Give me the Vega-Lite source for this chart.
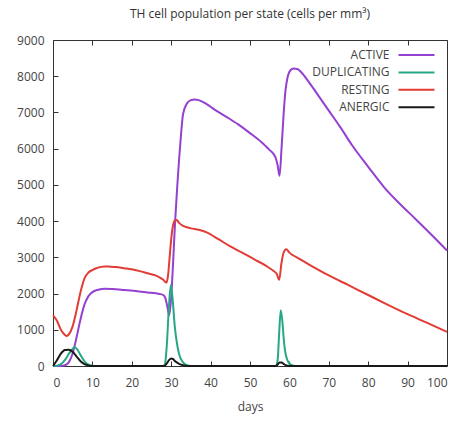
{
  "$schema": "https://vega.github.io/schema/vega-lite/v6.json",
  "width": 394,
  "height": 326,
  "autosize": {"type": "none"},
  "padding": {"left": 53, "top": 40, "right": 18, "bottom": 55},
  "title": {"text": "TH cell population per state (cells per mm³)", "fontSize": 12, "fontWeight": "normal", "color": "#333", "font": "Open Sans", "offset": 13, "anchor": "middle"},
  "config": {
    "view": {"stroke": "#333", "strokeWidth": 1},
    "font": "Open Sans",
    "axis": {"labelFont": "Open Sans", "labelFontSize": 12, "labelColor": "#444", "titleFont": "Open Sans", "titleFontSize": 12, "titleFontWeight": "normal", "titleColor": "#444", "tickColor": "#333", "grid": false, "domain": false}
  },
  "data": {"values": [
    {"d":0,"s":"ACTIVE","v":0},{"d":2,"s":"ACTIVE","v":0},{"d":3,"s":"ACTIVE","v":20},{"d":4,"s":"ACTIVE","v":100},{"d":5,"s":"ACTIVE","v":350},{"d":6,"s":"ACTIVE","v":800},{"d":7,"s":"ACTIVE","v":1300},{"d":8,"s":"ACTIVE","v":1700},{"d":9,"s":"ACTIVE","v":1930},{"d":10,"s":"ACTIVE","v":2040},{"d":11,"s":"ACTIVE","v":2090},{"d":12,"s":"ACTIVE","v":2120},{"d":13,"s":"ACTIVE","v":2130},{"d":15,"s":"ACTIVE","v":2125},{"d":18,"s":"ACTIVE","v":2100},{"d":21,"s":"ACTIVE","v":2070},{"d":24,"s":"ACTIVE","v":2030},{"d":27,"s":"ACTIVE","v":1990},{"d":28,"s":"ACTIVE","v":1960},{"d":28.5,"s":"ACTIVE","v":1880},{"d":29,"s":"ACTIVE","v":1650},{"d":29.5,"s":"ACTIVE","v":1400},{"d":30,"s":"ACTIVE","v":1900},{"d":30.5,"s":"ACTIVE","v":2900},{"d":31,"s":"ACTIVE","v":4000},{"d":31.5,"s":"ACTIVE","v":4900},{"d":32,"s":"ACTIVE","v":5700},{"d":32.5,"s":"ACTIVE","v":6400},{"d":33,"s":"ACTIVE","v":6950},{"d":34,"s":"ACTIVE","v":7250},{"d":35,"s":"ACTIVE","v":7340},{"d":36,"s":"ACTIVE","v":7360},{"d":37,"s":"ACTIVE","v":7340},{"d":39,"s":"ACTIVE","v":7230},{"d":41,"s":"ACTIVE","v":7080},{"d":44,"s":"ACTIVE","v":6880},{"d":47,"s":"ACTIVE","v":6670},{"d":50,"s":"ACTIVE","v":6430},{"d":53,"s":"ACTIVE","v":6170},{"d":55,"s":"ACTIVE","v":5960},{"d":56,"s":"ACTIVE","v":5850},{"d":56.5,"s":"ACTIVE","v":5750},{"d":57,"s":"ACTIVE","v":5550},{"d":57.5,"s":"ACTIVE","v":5250},{"d":58,"s":"ACTIVE","v":6000},{"d":58.5,"s":"ACTIVE","v":6900},{"d":59,"s":"ACTIVE","v":7600},{"d":59.5,"s":"ACTIVE","v":7950},{"d":60,"s":"ACTIVE","v":8120},{"d":61,"s":"ACTIVE","v":8210},{"d":62,"s":"ACTIVE","v":8200},{"d":63,"s":"ACTIVE","v":8110},{"d":65,"s":"ACTIVE","v":7830},{"d":67,"s":"ACTIVE","v":7520},{"d":70,"s":"ACTIVE","v":7050},{"d":73,"s":"ACTIVE","v":6580},{"d":76,"s":"ACTIVE","v":6080},{"d":80,"s":"ACTIVE","v":5500},{"d":84,"s":"ACTIVE","v":4940},{"d":88,"s":"ACTIVE","v":4480},{"d":92,"s":"ACTIVE","v":4060},{"d":96,"s":"ACTIVE","v":3630},{"d":100,"s":"ACTIVE","v":3190},
    {"d":0,"s":"DUPLICATING","v":0},{"d":1,"s":"DUPLICATING","v":10},{"d":2,"s":"DUPLICATING","v":50},{"d":3,"s":"DUPLICATING","v":160},{"d":4,"s":"DUPLICATING","v":330},{"d":5,"s":"DUPLICATING","v":480},{"d":5.5,"s":"DUPLICATING","v":520},{"d":6,"s":"DUPLICATING","v":480},{"d":7,"s":"DUPLICATING","v":300},{"d":8,"s":"DUPLICATING","v":130},{"d":9,"s":"DUPLICATING","v":40},{"d":10,"s":"DUPLICATING","v":10},{"d":11,"s":"DUPLICATING","v":0},{"d":28,"s":"DUPLICATING","v":0},{"d":28.4,"s":"DUPLICATING","v":50},{"d":28.9,"s":"DUPLICATING","v":600},{"d":29.4,"s":"DUPLICATING","v":1600},{"d":29.9,"s":"DUPLICATING","v":2230},{"d":30.4,"s":"DUPLICATING","v":1800},{"d":30.9,"s":"DUPLICATING","v":1100},{"d":31.5,"s":"DUPLICATING","v":600},{"d":32,"s":"DUPLICATING","v":330},{"d":33,"s":"DUPLICATING","v":100},{"d":34,"s":"DUPLICATING","v":25},{"d":35,"s":"DUPLICATING","v":0},{"d":56.5,"s":"DUPLICATING","v":0},{"d":57,"s":"DUPLICATING","v":150},{"d":57.4,"s":"DUPLICATING","v":900},{"d":57.8,"s":"DUPLICATING","v":1540},{"d":58.2,"s":"DUPLICATING","v":1250},{"d":58.6,"s":"DUPLICATING","v":700},{"d":59.1,"s":"DUPLICATING","v":300},{"d":60,"s":"DUPLICATING","v":70},{"d":61,"s":"DUPLICATING","v":10},{"d":62,"s":"DUPLICATING","v":0},{"d":100,"s":"DUPLICATING","v":0},
    {"d":0,"s":"RESTING","v":1400},{"d":1,"s":"RESTING","v":1250},{"d":2,"s":"RESTING","v":1000},{"d":3,"s":"RESTING","v":860},{"d":3.5,"s":"RESTING","v":830},{"d":4,"s":"RESTING","v":870},{"d":5,"s":"RESTING","v":1100},{"d":6,"s":"RESTING","v":1550},{"d":7,"s":"RESTING","v":2050},{"d":8,"s":"RESTING","v":2420},{"d":9,"s":"RESTING","v":2580},{"d":10,"s":"RESTING","v":2650},{"d":11,"s":"RESTING","v":2700},{"d":12,"s":"RESTING","v":2730},{"d":13,"s":"RESTING","v":2750},{"d":14,"s":"RESTING","v":2750},{"d":16,"s":"RESTING","v":2730},{"d":18,"s":"RESTING","v":2700},{"d":20,"s":"RESTING","v":2670},{"d":22,"s":"RESTING","v":2620},{"d":24,"s":"RESTING","v":2560},{"d":26,"s":"RESTING","v":2500},{"d":27,"s":"RESTING","v":2450},{"d":28,"s":"RESTING","v":2380},{"d":28.8,"s":"RESTING","v":2300},{"d":29.2,"s":"RESTING","v":2500},{"d":29.6,"s":"RESTING","v":3000},{"d":30,"s":"RESTING","v":3500},{"d":30.5,"s":"RESTING","v":3900},{"d":31,"s":"RESTING","v":4020},{"d":31.4,"s":"RESTING","v":4030},{"d":32,"s":"RESTING","v":3950},{"d":33,"s":"RESTING","v":3870},{"d":34,"s":"RESTING","v":3830},{"d":35,"s":"RESTING","v":3800},{"d":37,"s":"RESTING","v":3760},{"d":39,"s":"RESTING","v":3690},{"d":42,"s":"RESTING","v":3500},{"d":45,"s":"RESTING","v":3300},{"d":48,"s":"RESTING","v":3130},{"d":51,"s":"RESTING","v":2950},{"d":54,"s":"RESTING","v":2770},{"d":56,"s":"RESTING","v":2620},{"d":56.8,"s":"RESTING","v":2540},{"d":57.4,"s":"RESTING","v":2380},{"d":58,"s":"RESTING","v":2850},{"d":58.5,"s":"RESTING","v":3120},{"d":59.2,"s":"RESTING","v":3220},{"d":60,"s":"RESTING","v":3130},{"d":61,"s":"RESTING","v":3050},{"d":62.3,"s":"RESTING","v":2970},{"d":65,"s":"RESTING","v":2800},{"d":70,"s":"RESTING","v":2500},{"d":75,"s":"RESTING","v":2230},{"d":80,"s":"RESTING","v":1960},{"d":85,"s":"RESTING","v":1690},{"d":90,"s":"RESTING","v":1430},{"d":95,"s":"RESTING","v":1190},{"d":100,"s":"RESTING","v":940},
    {"d":0,"s":"ANERGIC","v":0},{"d":1,"s":"ANERGIC","v":160},{"d":2,"s":"ANERGIC","v":340},{"d":3,"s":"ANERGIC","v":440},{"d":4,"s":"ANERGIC","v":450},{"d":5,"s":"ANERGIC","v":390},{"d":6,"s":"ANERGIC","v":260},{"d":7,"s":"ANERGIC","v":130},{"d":8,"s":"ANERGIC","v":50},{"d":9,"s":"ANERGIC","v":15},{"d":10,"s":"ANERGIC","v":0},{"d":28,"s":"ANERGIC","v":0},{"d":28.5,"s":"ANERGIC","v":20},{"d":29,"s":"ANERGIC","v":90},{"d":29.5,"s":"ANERGIC","v":170},{"d":30,"s":"ANERGIC","v":210},{"d":30.5,"s":"ANERGIC","v":190},{"d":31,"s":"ANERGIC","v":130},{"d":32,"s":"ANERGIC","v":60},{"d":33,"s":"ANERGIC","v":20},{"d":34,"s":"ANERGIC","v":0},{"d":56.5,"s":"ANERGIC","v":0},{"d":57,"s":"ANERGIC","v":40},{"d":57.5,"s":"ANERGIC","v":100},{"d":58,"s":"ANERGIC","v":95},{"d":58.5,"s":"ANERGIC","v":60},{"d":59,"s":"ANERGIC","v":25},{"d":60,"s":"ANERGIC","v":0},{"d":100,"s":"ANERGIC","v":0}
  ]},
  "layer": [
    {
      "mark": {"type": "line", "strokeWidth": 2, "interpolate": "monotone"},
      "encoding": {
        "x": {"field": "d", "type": "quantitative", "scale": {"domain": [0, 100], "nice": false},
              "axis": {"values": [0,10,20,30,40,50,60,70,80,90,100], "format": "d", "title": "days", "tickSize": -5, "labelPadding": 16, "titlePadding": 13}},
        "y": {"field": "v", "type": "quantitative", "scale": {"domain": [0, 9000], "nice": false},
              "axis": {"values": [0,1000,2000,3000,4000,5000,6000,7000,8000,9000], "format": "d", "title": null, "tickSize": -5, "labelPadding": 14}},
        "color": {"field": "s", "type": "nominal",
                  "scale": {"domain": ["ACTIVE", "DUPLICATING", "RESTING", "ANERGIC"], "range": ["#9440d0", "#26a886", "#e23c34", "#1a1a1a"]},
                  "legend": {"title": null, "orient": "none", "legendX": 357.5, "legendY": 9, "symbolType": "M-3.6,0H3.6", "symbolStrokeWidth": 2, "symbolSize": 100, "labelAlign": "right", "labelOffset": -33, "labelFontSize": 12, "labelColor": "#444", "labelFont": "Open Sans", "rowPadding": 5.4}}
      }
    },
    {
      "mark": {"type": "line", "opacity": 0},
      "encoding": {
        "x": {"field": "d", "type": "quantitative", "axis": {"orient": "top", "labels": false, "title": null, "tickSize": -5, "values": [0,10,20,30,40,50,60,70,80,90,100]}},
        "y": {"field": "v", "type": "quantitative", "axis": null},
        "detail": {"field": "s"}
      }
    }
  ],
  "resolve": {"axis": {"x": "independent", "y": "independent"}}
}
